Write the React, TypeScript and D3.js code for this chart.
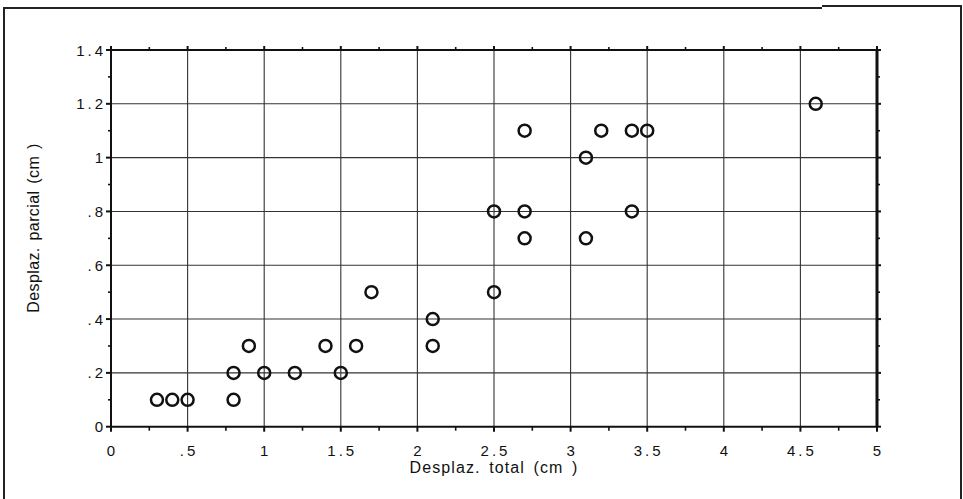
import React from "react";
import * as d3 from "d3";

const xValues = [0.3, 0.4, 0.5, 0.8, 0.8, 0.9, 1.0, 1.2, 1.4, 1.5, 1.6, 1.7, 2.1, 2.1, 2.5, 2.5, 2.7, 2.7, 2.7, 3.1, 3.1, 3.2, 3.4, 3.5, 3.4, 4.6];
const yValues = [0.1, 0.1, 0.1, 0.1, 0.2, 0.3, 0.2, 0.2, 0.3, 0.2, 0.3, 0.5, 0.4, 0.3, 0.5, 0.8, 1.1, 0.8, 0.7, 1.0, 0.7, 1.1, 1.1, 1.1, 0.8, 1.2];
const xTicks = [0, 0.5, 1, 1.5, 2, 2.5, 3, 3.5, 4, 4.5, 5];
const xTickLabels = ["0", ".5", "1", "1.5", "2", "2.5", "3", "3.5", "4", "4.5", "5"];
const yTicks = [0, 0.2, 0.4, 0.6, 0.8, 1.0, 1.2, 1.4];
const yTickLabels = ["0", ".2", ".4", ".6", ".8", "1", "1.2", "1.4"];
const xMinorTicks = [0.25, 0.75, 1.25, 1.75, 2.25, 2.75, 3.25, 3.75, 4.25, 4.75];
const yMinorTicks = [0.1, 0.3, 0.5, 0.7, 0.9, 1.1, 1.3];
const xTitle = "Desplaz. total (cm )";
const yTitle = "Desplaz. parcial (cm )";

export default function App() {
  const W = 963, H = 499;
  const x = d3.scaleLinear().domain([0, 5]).range([111, 877]);
  const y = d3.scaleLinear().domain([0, 1.4]).range([426.7, 50]);
  const font = "'Liberation Sans', Arial, Helvetica, sans-serif";
  const [x0, x1] = x.range();
  const [yb, yt] = y.range();
  return (
    <svg width={W} height={H} style={{ position: "absolute", left: 0, top: 0, background: "#fff" }}>
      {/* outer border */}
      <path d={`M4,499 L4,8 L822,8`} fill="none" stroke="#222" strokeWidth={2} />
      <path d={`M822,6 L961,6 L961,499`} fill="none" stroke="#222" strokeWidth={2} />
      {/* grid */}
      {xTicks.slice(1, -1).map((t, i) => (
        <line key={"gx" + i} x1={x(t)} x2={x(t)} y1={yb} y2={yt} stroke="#333" strokeWidth={1.1} />
      ))}
      {yTicks.slice(1, -1).map((t, i) => (
        <line key={"gy" + i} x1={x0} x2={x1} y1={y(t)} y2={y(t)} stroke="#333" strokeWidth={1.1} />
      ))}
      {/* frame */}
      <line x1={x0} x2={x1} y1={yt} y2={yt} stroke="#111" strokeWidth={1.8} />
      <line x1={x0} x2={x1 + 1} y1={yb} y2={yb} stroke="#111" strokeWidth={2} />
      <line x1={x0} x2={x0} y1={yt} y2={yb} stroke="#111" strokeWidth={2} />
      <line x1={x1} x2={x1} y1={yt} y2={yb} stroke="#111" strokeWidth={3} />
      {/* major ticks */}
      {xTicks.map((t, i) => (
        <g key={"xt" + i}>
          <line x1={x(t)} x2={x(t)} y1={yb} y2={yb + 5} stroke="#111" strokeWidth={2} />
          <line x1={x(t)} x2={x(t)} y1={yt} y2={yt - 4} stroke="#111" strokeWidth={2} />
        </g>
      ))}
      {xMinorTicks.map((t, i) => (
        <g key={"xm" + i}>
          <line x1={x(t)} x2={x(t)} y1={yb} y2={yb + 4} stroke="#111" strokeWidth={1.6} />
          <line x1={x(t)} x2={x(t)} y1={yt} y2={yt - 3} stroke="#111" strokeWidth={1.6} />
        </g>
      ))}
      {yTicks.map((t, i) => (
        <g key={"yt" + i}>
          <line x1={x0 - 5} x2={x0} y1={y(t)} y2={y(t)} stroke="#111" strokeWidth={2} />
          <line x1={x1} x2={x1 + 4} y1={y(t)} y2={y(t)} stroke="#111" strokeWidth={2} />
        </g>
      ))}
      {yMinorTicks.map((t, i) => (
        <g key={"ym" + i}>
          <line x1={x0 - 3} x2={x0} y1={y(t)} y2={y(t)} stroke="#111" strokeWidth={1.6} />
          <line x1={x1} x2={x1 + 3} y1={y(t)} y2={y(t)} stroke="#111" strokeWidth={1.6} />
        </g>
      ))}
      {/* tick labels */}
      {xTicks.map((t, i) => (
        <text key={"xl" + i} x={x(t) + 1.5} y={455.5} textAnchor="middle" fontFamily={font} fontSize={15} letterSpacing={3} fill="#111">
          {xTickLabels[i]}
        </text>
      ))}
      {yTicks.map((t, i) => (
        <text key={"yl" + i} x={106} y={y(t) + 5.5} textAnchor="end" fontFamily={font} fontSize={15} letterSpacing={3} fill="#111">
          {yTickLabels[i]}
        </text>
      ))}
      {/* titles */}
      <text x={494} y={473} textAnchor="middle" fontFamily={font} fontSize={16} letterSpacing={1.1} wordSpacing={3} fill="#111">
        {xTitle}
      </text>
      <text transform={`translate(39, 228) rotate(-90)`} textAnchor="middle" fontFamily={font} fontSize={16} letterSpacing={0.4} wordSpacing={2} fill="#111">
        {yTitle}
      </text>
      {/* points */}
      {xValues.map((v, i) => (
        <circle key={"p" + i} cx={x(v)} cy={y(yValues[i])} r={6} fill="none" stroke="#111" strokeWidth={2.5} />
      ))}
    </svg>
  );
}
